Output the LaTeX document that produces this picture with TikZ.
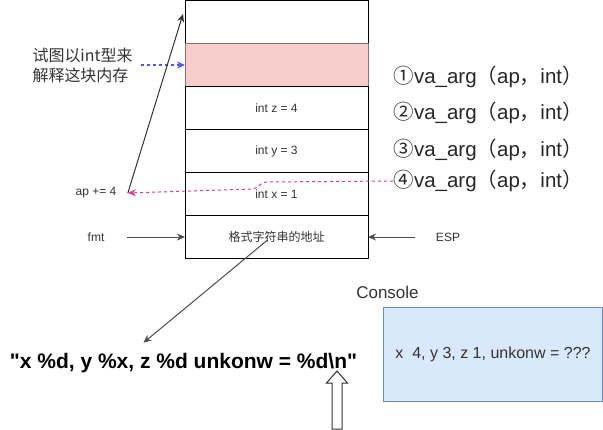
\documentclass[tikz,border=0pt]{standalone}
\usepackage{fontspec}
\setmainfont{Liberation Sans}
\newfontfamily\cjk{Noto Sans CJK SC}
\usetikzlibrary{arrows.meta,positioning}
\definecolor{pinkcell}{HTML}{F8CECC}
\definecolor{pinkline}{HTML}{8A7070}
\definecolor{consfill}{HTML}{DAE8FC}
\definecolor{consline}{HTML}{6C8EBF}
\definecolor{tryblue}{HTML}{5555FF}
\definecolor{apred}{HTML}{DD3C94}
\tikzset{
  cell/.style={draw, minimum width=183pt, minimum height=43pt, inner sep=0pt, outer sep=0pt,
    text=black!80, font=\fontsize{12}{14}\selectfont},
  lbl/.style={inner sep=0pt, text=black!80, font=\fontsize{12}{14}\selectfont},
  varg/.style={anchor=west, inner sep=0pt, text=black!85, font=\fontsize{20.5}{24}\selectfont},
  arr/.style={-{Stealth[length=8pt,width=7pt]}, draw=black!70},
}
\begin{document}
\begin{tikzpicture}[x=1pt,y=-1pt,line width=1pt]
        \useasboundingbox (0,0) rectangle (603,429);
        % the stack
        \node[cell] (top) at (276.5,22) {};
        \node[cell,below=0pt of top,fill=pinkcell,draw=pinkline] (pink) {};
        \node[cell,below=0pt of pink] (cz) {int z = 4};
        \node[cell,below=0pt of cz] (cy) {int y = 3};
        \node[cell,below=0pt of cy] (cx) {int x = 1};
        \node[cell,below=0pt of cx] (cfmt) {\cjk 格式字符串的地址};

        \node[inner sep=0pt, anchor=west, align=left, text=black!80,
          font=\cjk\fontsize{16}{20}\selectfont] (note) at (32,65) {试图以int型来\\解释这块内存};
        \draw[tryblue, line width=1.3pt, dash pattern=on 3pt off 3pt, -{Stealth[length=8pt,width=7pt]}]
          ([xshift=8pt]note.east) -- (pink.west);

        \node[varg] (va1) at (393,77) {{\cjk ①}va\_arg{\cjk （}ap{\cjk ，}int{\cjk ）}};
        \node[varg] (va2) at (393,113) {{\cjk ②}va\_arg{\cjk （}ap{\cjk ，}int{\cjk ）}};
        \node[varg] (va3) at (393,150) {{\cjk ③}va\_arg{\cjk （}ap{\cjk ，}int{\cjk ）}};
        \node[varg] (va4) at (393,181) {{\cjk ④}va\_arg{\cjk （}ap{\cjk ，}int{\cjk ）}};

        \node[lbl] (aplbl) at (96,193) {ap += 4};
        \coordinate (apfrom) at ([xshift=11pt]aplbl.east);
        \coordinate (aptip) at ([xshift=-2pt,yshift=8pt]top.west);
        \draw[arr, draw=black!80] (apfrom) -- (aptip);
        \draw[apred, dashed, -{Stealth[length=8pt,width=7pt]}]
          (va4.west) -- (266,182) .. controls (260,182) and (260,188) .. (252,189) -- (apfrom);

        \node[lbl] (fmtlbl) at (96,237) {fmt};
        \node[lbl] (esp) at (448,237) {ESP};
        \draw[arr] ([xshift=22pt]fmtlbl.east) -- (cfmt.west);
        \draw[arr] ([xshift=-20pt]esp.west) -- (cfmt.east);

        \node[inner sep=0pt, font=\bfseries\fontsize{21}{24}\selectfont] (fmtstr) at (183.5,363)
          {\textquotedbl x \%d, y \%x, z \%d unkonw = \%d\textbackslash n\textquotedbl};
        \draw[arr] ([xshift=-9pt,yshift=-3pt]cfmt.center) -- ([xshift=-40pt,yshift=10pt]fmtstr.north);

        % console
        \node[lbl, font=\fontsize{17}{20}\selectfont] (conslbl) at (387.5,292) {Console};
        \node[draw=consline, fill=consfill, minimum width=219pt, minimum height=94pt,
          text=black!80, font=\fontsize{16}{19}\selectfont] (cons) at (493,354)
          {x\ \ 4, y 3, z 1, unkonw = ???};

        % hollow arrow under \n
        \coordinate (nup) at (337,371);
        \draw[fill=white, draw=black!80] (nup) -- ++(10.5,12) -- ++(-5.5,0) -- ++(0,46)
          -- ++(-10,0) -- ++(0,-46) -- ++(-5.5,0) -- cycle;
\end{tikzpicture}
\end{document}
